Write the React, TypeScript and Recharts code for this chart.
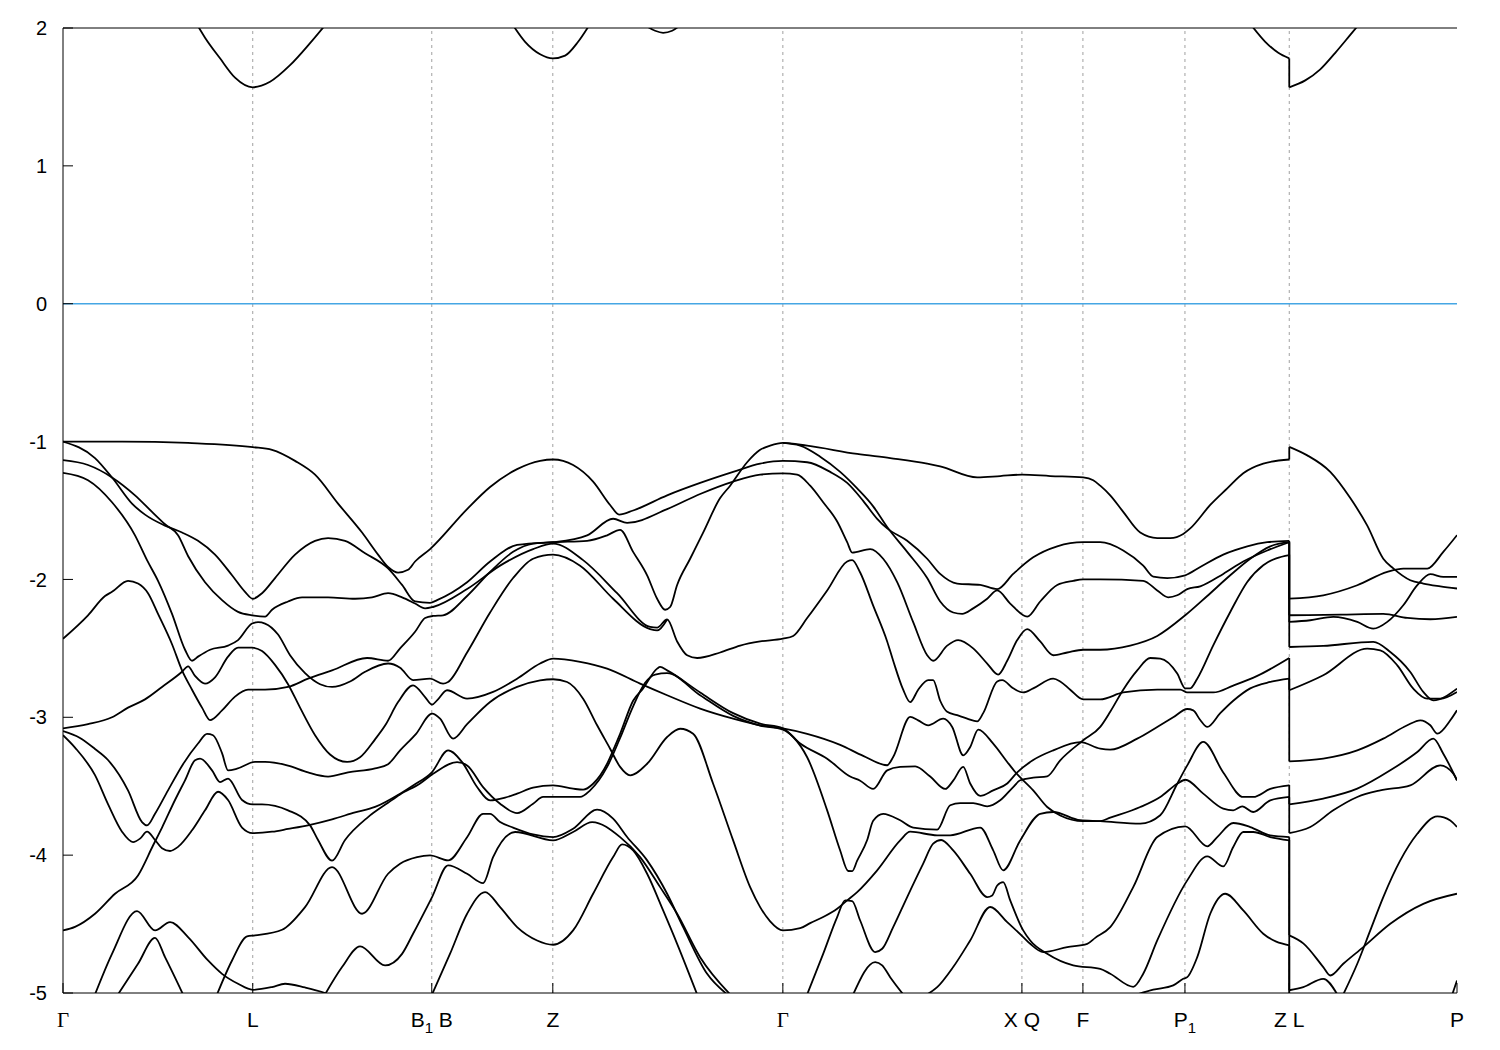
import React from 'react';
import { LineChart, Line, XAxis, YAxis, ReferenceLine } from 'recharts';

type Pt = [number, number];

// high-symmetry points along the k-path (path coordinate) and their labels
const symK = [63, 252.7, 431.7, 552.7, 782.7, 1021.7, 1082.7, 1184.7, 1289, 1456.7];
const symLabels = ['Γ', 'L', 'B_1 B', 'Z', 'Γ', 'X Q', 'F', 'P_1', 'Z L', 'P'];
const energyTicks = [-5, -4, -3, -2, -1, 0, 1, 2];

// conduction bands (above the Fermi level)
const conductionBands: Pt[][] = [
  [[195, 2.05], [205, 1.93], [220, 1.78], [235, 1.64], [252.7, 1.57], [270, 1.61], [290, 1.73], [310, 1.89], [325, 2.02]],
  [[512, 2.03], [525, 1.9], [540, 1.81], [552.7, 1.78], [565, 1.8], [578, 1.9], [590, 2.03]],
  [[645, 2.02], [655, 1.98], [663, 1.965], [672, 1.98], [680, 2.02]],
  [[1250, 2.03], [1265, 1.9], [1278, 1.82], [1289, 1.78]],
  [[1289, 1.57], [1305, 1.62], [1320, 1.7], [1335, 1.82], [1350, 1.95], [1358, 2.02]],
];

// upper valence bands, Γ ... Z
const upperValence: Pt[][] = [
  [[63, -1.0], [95, -1.12], [113, -1.27], [132, -1.45], [145, -1.53], [165, -1.61], [182, -1.66], [198, -1.72], [215, -1.82], [232, -1.97], [245, -2.09], [252.7, -2.14], [262, -2.1], [275, -1.99], [295, -1.82], [315, -1.72], [328, -1.7], [345, -1.72], [365, -1.81], [388, -1.92], [402, -2.04], [415, -2.16], [430, -2.17], [437, -2.15], [467, -2.02], [490, -1.87], [517, -1.75], [553, -1.73], [587, -1.72], [607, -1.68], [620, -1.64], [633, -1.8], [647, -1.97], [657, -2.14], [665, -2.22], [670, -2.2], [677, -2.04], [690, -1.85], [703, -1.66], [720, -1.41], [730, -1.32], [747, -1.15], [760, -1.06], [770, -1.03], [782.7, -1.01], [807, -1.03], [857, -1.09], [890, -1.12], [927, -1.16], [940, -1.18], [977, -1.26], [1000, -1.25], [1022, -1.24], [1050, -1.25], [1083, -1.26], [1093, -1.28], [1100, -1.32], [1110, -1.39], [1123, -1.51], [1140, -1.66], [1157, -1.7], [1170, -1.7], [1183, -1.67], [1190, -1.63], [1210, -1.46], [1227, -1.34], [1243, -1.23], [1263, -1.16], [1289, -1.13]],
  [[63, -1.0], [122, -1.0], [188, -1.01], [252.7, -1.04], [272, -1.06], [295, -1.14], [315, -1.24], [338, -1.45], [362, -1.66], [378, -1.82], [388, -1.91], [398, -1.95], [408, -1.93], [415, -1.87], [430, -1.78], [467, -1.49], [490, -1.33], [517, -1.2], [540, -1.14], [553, -1.13], [573, -1.17], [593, -1.29], [610, -1.46], [619, -1.53], [633, -1.5], [667, -1.39], [700, -1.3], [733, -1.22], [760, -1.16], [782.7, -1.14], [807, -1.15], [830, -1.22], [847, -1.3], [863, -1.43], [877, -1.56], [887, -1.63], [907, -1.72], [927, -1.85], [940, -1.96], [957, -2.03], [980, -2.04], [997, -2.07], [1013, -1.96], [1033, -1.84], [1057, -1.76], [1083, -1.73], [1100, -1.73], [1123, -1.79], [1143, -1.9], [1153, -1.98], [1167, -1.99], [1185, -1.97], [1200, -1.91], [1223, -1.82], [1247, -1.76], [1267, -1.73], [1289, -1.72]],
  [[63, -1.135], [88, -1.17], [112, -1.26], [135, -1.39], [152, -1.51], [165, -1.6], [178, -1.68], [188, -1.83], [205, -2.02], [222, -2.15], [238, -2.235], [252, -2.26], [265, -2.27], [272, -2.22], [288, -2.16], [302, -2.13], [328, -2.13], [355, -2.14], [372, -2.13], [388, -2.1], [402, -2.13], [415, -2.175], [425, -2.21], [433, -2.2], [467, -2.07], [500, -1.9], [533, -1.78], [553, -1.74], [583, -1.86], [617, -2.1], [650, -2.345], [657, -2.35], [667, -2.29], [677, -2.45], [687, -2.55], [697, -2.57], [720, -2.53], [740, -2.48], [760, -2.45], [782.7, -2.43], [793, -2.41], [807, -2.28], [827, -2.08], [847, -1.87], [852, -1.86], [860, -1.95], [873, -2.19], [887, -2.45], [893, -2.59], [903, -2.8], [910, -2.89], [918, -2.8], [928, -2.73], [933, -2.73], [940, -2.88], [947, -2.96], [957, -2.985], [967, -3.01], [977, -3.03], [983, -2.97], [997, -2.74], [1002, -2.73], [1013, -2.79], [1023, -2.82], [1033, -2.79], [1053, -2.72], [1060, -2.74], [1070, -2.8], [1083, -2.87], [1100, -2.87], [1123, -2.82], [1157, -2.8], [1180, -2.8], [1187, -2.82], [1213, -2.82], [1233, -2.77], [1257, -2.7], [1289, -2.57]],
  [[63, -1.227], [88, -1.28], [112, -1.44], [135, -1.68], [147, -1.86], [158, -2.01], [172, -2.25], [185, -2.51], [192, -2.59], [198, -2.56], [210, -2.51], [228, -2.48], [238, -2.44], [252, -2.32], [258, -2.31], [265, -2.32], [278, -2.4], [290, -2.55], [305, -2.68], [320, -2.76], [332, -2.78], [350, -2.74], [365, -2.67], [388, -2.61], [400, -2.64], [413, -2.73], [430, -2.72], [443, -2.756], [448, -2.744], [467, -2.53], [490, -2.24], [513, -1.99], [533, -1.85], [553, -1.82], [580, -1.9], [613, -2.14], [650, -2.36], [657, -2.37], [667, -2.29]],
  [[63, -2.43], [88, -2.26], [105, -2.12], [112, -2.09], [128, -2.01], [138, -2.03], [148, -2.1], [158, -2.25], [172, -2.47], [182, -2.66], [192, -2.8], [202, -2.93], [210, -3.02], [222, -2.95], [235, -2.85], [248, -2.8], [265, -2.8], [288, -2.78], [308, -2.72], [332, -2.66], [367, -2.57], [388, -2.59], [400, -2.5], [415, -2.38], [425, -2.28], [433, -2.265], [443, -2.26], [467, -2.12], [490, -1.945], [513, -1.8], [533, -1.74], [553, -1.73], [587, -1.68], [613, -1.56], [627, -1.59], [667, -1.49], [700, -1.38], [733, -1.29], [760, -1.24], [782.7, -1.23], [797, -1.24], [810, -1.32], [823, -1.44], [837, -1.58], [847, -1.73], [852, -1.805], [870, -1.78], [883, -1.85], [897, -2.02], [913, -2.31], [927, -2.55], [933, -2.59], [947, -2.48], [958, -2.44], [973, -2.5], [987, -2.61], [998, -2.69], [1007, -2.59], [1017, -2.44], [1027, -2.36], [1040, -2.45], [1053, -2.55], [1067, -2.53], [1083, -2.51], [1100, -2.51], [1130, -2.48], [1157, -2.41], [1185, -2.26], [1207, -2.12], [1230, -1.97], [1250, -1.85], [1270, -1.76], [1289, -1.73]],
  [[782.7, -1.01], [800, -1.03], [820, -1.11], [840, -1.22], [857, -1.34], [873, -1.47], [887, -1.62], [907, -1.8], [927, -1.99], [940, -2.16], [953, -2.24], [962, -2.25], [973, -2.21], [987, -2.14], [997, -2.08], [1010, -2.175], [1027, -2.27], [1040, -2.16], [1057, -2.04], [1073, -2.01], [1083, -2.0], [1100, -2.0], [1143, -2.01], [1157, -2.08], [1168, -2.13], [1177, -2.115], [1187, -2.07], [1200, -2.05], [1223, -1.96], [1243, -1.87], [1267, -1.79], [1289, -1.73]],
];

// lower valence bands, Γ ... Z
const lowerValence: Pt[][] = [
  [[63, -3.13], [75, -3.22], [95, -3.42], [108, -3.63], [122, -3.83], [133, -3.905], [140, -3.88], [147, -3.83], [155, -3.89], [162, -3.95], [170, -3.97], [178, -3.94], [192, -3.82], [205, -3.675], [218, -3.54], [228, -3.6], [242, -3.8], [252.7, -3.84], [272, -3.83], [288, -3.81], [310, -3.78], [332, -3.74], [355, -3.69], [375, -3.65], [400, -3.554], [413, -3.494], [432, -3.397], [448, -3.24], [462, -3.325], [477, -3.506], [490, -3.603], [505, -3.583], [517, -3.554], [533, -3.511], [553, -3.494], [573, -3.518], [583, -3.525], [593, -3.482], [607, -3.337], [613, -3.24], [620, -3.12], [633, -2.88], [643, -2.79], [657, -2.647], [660, -2.635], [667, -2.66], [700, -2.82], [733, -2.97], [760, -3.046], [782.7, -3.08], [800, -3.19], [827, -3.3], [850, -3.43], [860, -3.46], [873, -3.52], [887, -3.385], [900, -3.36], [915, -3.356], [930, -3.43], [945, -3.52], [953, -3.46], [963, -3.36], [970, -3.48], [980, -3.57], [993, -3.53], [1007, -3.48], [1017, -3.4], [1033, -3.31], [1053, -3.24], [1080, -3.18], [1100, -3.228], [1110, -3.235], [1137, -3.155], [1157, -3.07], [1173, -3.0], [1187, -2.94], [1193, -2.95], [1200, -3.02], [1207, -3.07], [1220, -2.97], [1233, -2.88], [1250, -2.79], [1270, -2.744], [1289, -2.72]],
  [[63, -4.546], [75, -4.52], [95, -4.425], [115, -4.28], [138, -4.147], [153, -3.93], [162, -3.8], [175, -3.6], [185, -3.457], [195, -3.312], [200, -3.3], [212, -3.385], [220, -3.47], [228, -3.445], [242, -3.6], [252.7, -3.632], [262, -3.632], [288, -3.675], [310, -3.784], [318, -3.89], [332, -4.04], [345, -3.89], [368, -3.724], [388, -3.62], [400, -3.56], [420, -3.48], [433, -3.41], [457, -3.325], [467, -3.349], [483, -3.506], [500, -3.627], [517, -3.695], [533, -3.627], [543, -3.578], [580, -3.578], [590, -3.53], [607, -3.36], [620, -3.15], [633, -2.92], [645, -2.75], [655, -2.69], [667, -2.68], [700, -2.84], [733, -2.99], [760, -3.06], [782.7, -3.09], [793, -3.143], [807, -3.29], [827, -3.675], [840, -3.966], [848, -4.115], [852, -4.116], [857, -4.04], [867, -3.89], [873, -3.75], [883, -3.7], [900, -3.747], [913, -3.8], [937, -3.815], [950, -3.638], [960, -3.622], [973, -3.622], [987, -3.646], [1000, -3.602], [1013, -3.506], [1020, -3.457], [1033, -3.438], [1047, -3.428], [1060, -3.312], [1083, -3.167], [1100, -3.07], [1110, -2.96], [1123, -2.8], [1137, -2.66], [1150, -2.57], [1160, -2.574], [1177, -2.683], [1185, -2.79], [1190, -2.79], [1197, -2.72], [1213, -2.478], [1230, -2.236], [1247, -2.018], [1263, -1.897], [1289, -1.824]],
  [[63, -3.08], [88, -3.05], [112, -3.0], [128, -2.93], [145, -2.87], [162, -2.78], [182, -2.67], [188, -2.63], [195, -2.7], [205, -2.756], [215, -2.71], [228, -2.56], [238, -2.495], [252, -2.495], [262, -2.52], [275, -2.62], [288, -2.76], [300, -2.93], [315, -3.13], [330, -3.27], [347, -3.324], [360, -3.29], [375, -3.16], [385, -3.06], [398, -2.89], [413, -2.768], [425, -2.853], [432, -2.908], [437, -2.877], [447, -2.804], [467, -2.864], [493, -2.816], [517, -2.72], [540, -2.61], [553, -2.574], [580, -2.598], [607, -2.647], [640, -2.756], [667, -2.84], [700, -2.937], [733, -3.01], [760, -3.058], [782.7, -3.08], [807, -3.12], [840, -3.2], [863, -3.28], [887, -3.348], [893, -3.288], [910, -2.997], [918, -3.022], [928, -3.058], [943, -3.01], [952, -3.07], [963, -3.276], [970, -3.215], [978, -3.089], [993, -3.191], [1007, -3.324], [1015, -3.397], [1033, -3.53], [1047, -3.651], [1060, -3.712], [1083, -3.753], [1100, -3.753], [1110, -3.728], [1140, -3.651], [1160, -3.578], [1177, -3.482], [1185, -3.453], [1203, -3.554], [1223, -3.663], [1233, -3.675], [1242, -3.646], [1253, -3.687], [1270, -3.603], [1289, -3.578]],
  [[63, -3.1], [80, -3.15], [95, -3.23], [108, -3.31], [128, -3.53], [142, -3.76], [147, -3.784], [155, -3.7], [168, -3.53], [183, -3.34], [198, -3.19], [207, -3.12], [213, -3.13], [222, -3.26], [228, -3.385], [237, -3.373], [255, -3.324], [265, -3.324], [288, -3.35], [308, -3.4], [328, -3.43], [348, -3.4], [375, -3.37], [388, -3.34], [400, -3.24], [416, -3.12], [432, -2.974], [440, -3.01], [453, -3.155], [467, -3.05], [490, -2.889], [517, -2.78], [540, -2.732], [553, -2.724], [567, -2.744], [583, -2.865], [597, -3.058], [610, -3.228], [620, -3.36], [630, -3.421], [647, -3.337], [667, -3.143], [680, -3.083], [693, -3.119], [713, -3.482], [733, -3.893], [750, -4.232], [760, -4.377], [770, -4.48], [782.7, -4.546], [800, -4.53], [810, -4.493], [823, -4.449], [837, -4.389], [847, -4.328], [857, -4.268], [877, -4.11], [900, -3.893], [910, -3.83], [937, -3.856], [950, -3.856], [980, -3.8], [993, -3.965], [1003, -4.11], [1020, -3.893], [1040, -3.7], [1053, -3.687], [1080, -3.747], [1100, -3.753], [1140, -3.772], [1160, -3.711], [1177, -3.482], [1187, -3.349], [1203, -3.179], [1223, -3.4], [1243, -3.578], [1253, -3.578], [1270, -3.52], [1289, -3.494]],
  [[807, -5.01], [823, -4.716], [837, -4.449], [845, -4.328], [852, -4.333], [860, -4.474], [875, -4.703], [882, -4.679], [893, -4.522], [907, -4.304], [923, -4.062], [933, -3.917], [941, -3.89], [953, -3.966], [970, -4.135], [987, -4.304], [992, -4.292], [997, -4.22], [1003, -4.195], [1010, -4.328], [1023, -4.546], [1030, -4.619], [1047, -4.716], [1073, -4.8], [1100, -4.825], [1110, -4.86], [1133, -4.955], [1143, -4.86], [1157, -4.619], [1187, -4.183], [1207, -4.009], [1223, -4.082], [1233, -3.941], [1243, -3.832], [1253, -3.832], [1270, -3.869], [1289, -3.893]],
  [[927, -5.01], [937, -4.958], [953, -4.812], [970, -4.619], [990, -4.376], [1007, -4.486], [1023, -4.594], [1030, -4.643], [1043, -4.703], [1067, -4.667], [1087, -4.643], [1095, -4.6], [1110, -4.522], [1133, -4.232], [1157, -3.869], [1185, -3.791], [1207, -3.936], [1217, -3.869], [1233, -3.767], [1250, -3.796], [1270, -3.857], [1289, -3.869]],
  [[853, -5.01], [875, -4.776], [882, -4.8], [890, -4.885], [903, -5.01]],
  [[1137, -5.01], [1153, -4.976], [1173, -4.945], [1183, -4.897], [1187, -4.885], [1197, -4.74], [1210, -4.425], [1225, -4.28], [1243, -4.401], [1263, -4.57], [1289, -4.655]],
  [[217, -5.01], [232, -4.764], [247, -4.59], [255, -4.582], [282, -4.541], [305, -4.377], [332, -4.087], [362, -4.425], [388, -4.135], [400, -4.062], [417, -4.014], [430, -4.002], [448, -4.038], [467, -3.87], [483, -3.7], [490, -3.7], [500, -3.76], [513, -3.8], [533, -3.85], [553, -3.869], [573, -3.808], [597, -3.67], [613, -3.735], [627, -3.868], [647, -4.038], [667, -4.28], [683, -4.522], [707, -4.861], [727, -5.01]],
  [[325, -5.01], [342, -4.812], [360, -4.662], [385, -4.8], [402, -4.716], [413, -4.57], [432, -4.304], [448, -4.074], [467, -4.135], [483, -4.203], [493, -4.014], [515, -3.832], [553, -3.893], [573, -3.832], [592, -3.76], [620, -3.869], [640, -4.014], [660, -4.232], [677, -4.425], [700, -4.74], [730, -5.01]],
  [[432, -5.01], [450, -4.715], [467, -4.425], [485, -4.268], [500, -4.377], [517, -4.522], [537, -4.619], [553, -4.65], [573, -4.546], [593, -4.28], [613, -4.014], [622, -3.922], [633, -3.966], [647, -4.135], [663, -4.401], [677, -4.643], [697, -5.01]],
  [[95, -5.01], [112, -4.716], [137, -4.406], [155, -4.546], [170, -4.486], [188, -4.594], [208, -4.764], [222, -4.861], [238, -4.933], [252.7, -4.977], [272, -4.957], [285, -4.933], [305, -4.96], [325, -5.0], [335, -5.03]],
  [[118, -5.01], [138, -4.788], [155, -4.6], [165, -4.74], [183, -5.01]],
];

// bands on the last segment L ... P
const lpBands: Pt[][] = [
  [[1289, -1.038], [1307, -1.1], [1330, -1.22], [1350, -1.41], [1367, -1.61], [1383, -1.85], [1393, -1.92], [1410, -2.006], [1423, -2.03], [1440, -2.05], [1456.7, -2.066]],
  [[1289, -2.139], [1323, -2.115], [1357, -2.042], [1387, -1.945], [1403, -1.921], [1427, -1.921], [1443, -1.8], [1456.7, -1.679]],
  [[1289, -2.26], [1340, -2.255], [1383, -2.25], [1407, -2.279], [1430, -2.289], [1456.7, -2.272]],
  [[1289, -2.308], [1310, -2.296], [1333, -2.272], [1357, -2.308], [1373, -2.357], [1387, -2.308], [1403, -2.187], [1417, -2.042], [1430, -1.962], [1443, -1.982], [1456.7, -1.982]],
  [[1289, -2.49], [1323, -2.482], [1373, -2.453], [1390, -2.526], [1410, -2.671], [1423, -2.816], [1433, -2.877], [1456.7, -2.792]],
  [[1289, -2.804], [1323, -2.695], [1367, -2.502], [1380, -2.514], [1397, -2.623], [1413, -2.792], [1427, -2.865], [1440, -2.865], [1456.7, -2.816]],
  [[1289, -3.32], [1323, -3.3], [1357, -3.24], [1383, -3.155], [1407, -3.058], [1420, -3.022], [1430, -3.058], [1437, -3.119], [1450, -3.022], [1456.7, -2.949]],
  [[1289, -3.632], [1323, -3.59], [1357, -3.518], [1390, -3.385], [1417, -3.252], [1433, -3.155], [1443, -3.264], [1456.7, -3.457]],
  [[1289, -3.84], [1310, -3.796], [1333, -3.675], [1357, -3.578], [1380, -3.53], [1410, -3.494], [1440, -3.349], [1453, -3.409], [1456.7, -3.457]],
  [[1289, -4.582], [1303, -4.64], [1323, -4.812], [1330, -4.873], [1343, -4.788], [1363, -4.667], [1390, -4.498], [1423, -4.353], [1456.7, -4.28]],
  [[1289, -4.98], [1303, -4.957], [1323, -4.897], [1337, -5.01]],
  [[1343, -5.01], [1357, -4.788], [1370, -4.546], [1383, -4.304], [1400, -4.038], [1417, -3.845], [1437, -3.719], [1450, -3.748], [1456.7, -3.796]],
  [[1452, -5.01], [1456.7, -4.909]],
];

// band energies on both sides of the Z|L break: [at Z, at L]
const zlJumps: Pt[] = [
  [1.78, 1.57], [-1.13, -1.04], [-1.72, -2.14], [-1.73, -2.26], [-1.73, -2.31], [-1.82, -2.49],
  [-2.57, -2.8], [-2.72, -3.32], [-3.49, -3.63], [-3.58, -3.84], [-3.87, -4.58], [-3.89, -4.98], [-4.66, -5.3],
];

const FONT = 'Liberation Sans, Arial, Helvetica, sans-serif';
const K_DOMAIN: [number, number] = [63, 1456.7];
const E_DOMAIN: [number, number] = [-5, 2];
const TICK_LEN = 10;

// bottom labels + inward tick marks
const SymTick = (props: any) => {
  const { x, y, payload } = props;
  const idx = symK.indexOf(payload.value);
  const label = idx >= 0 ? symLabels[idx] : '';
  const isGamma = label === 'Γ';
  const parts = label.split('_');
  return (
    <g>
      <line x1={x} x2={x} y1={y} y2={y - TICK_LEN} stroke="#000" strokeWidth={1} />
      <text
        x={x}
        y={y + 34}
        textAnchor="middle"
        fontSize={21}
        fill="#000"
        fontFamily={isGamma ? 'Liberation Serif, DejaVu Serif, serif' : FONT}
      >
        <tspan>{parts[0]}</tspan>
        {parts.length > 1 && (
          <>
            <tspan dy={6} fontSize={15}>{parts[1].charAt(0)}</tspan>
            <tspan dy={-6}>{parts[1].slice(1)}</tspan>
          </>
        )}
      </text>
    </g>
  );
};

// left labels + inward tick marks
const LeftTick = (props: any) => {
  const { x, y, payload } = props;
  return (
    <g>
      <line x1={x} x2={x + TICK_LEN} y1={y} y2={y} stroke="#000" strokeWidth={1} />
      <text x={x - 16} y={y} dy="0.36em" textAnchor="end" fontSize={20} fill="#000" fontFamily={FONT}>
        {String(payload.value)}
      </text>
    </g>
  );
};

// right mirrored tick marks
const RightTick = (props: any) => {
  const { x, y } = props;
  return <line x1={x - TICK_LEN} x2={x} y1={y} y2={y} stroke="#000" strokeWidth={1} />;
};

const toData = (pts: Pt[]) => pts.map(([k, e]) => ({ k, e }));

export default function App() {
  const bands = [...conductionBands, ...upperValence, ...lowerValence, ...lpBands];
  const breakK = symK[8];
  return (
    <div style={{ position: 'absolute', left: 0, top: 0, width: 1500, height: 1050, background: '#fff' }}>
      <LineChart width={1500} height={1050} margin={{ top: 28, right: 43, bottom: 17, left: 8 }}>
        <XAxis
          xAxisId="x"
          dataKey="k"
          type="number"
          domain={K_DOMAIN}
          ticks={symK}
          interval={0}
          allowDataOverflow
          height={40}
          tickLine={false}
          tickSize={0}
          tickMargin={0}
          tick={<SymTick />}
          axisLine={{ stroke: '#000' }}
        />
        <XAxis xAxisId="xt" orientation="top" mirror type="number" domain={K_DOMAIN} allowDataOverflow tick={false} tickLine={false} axisLine={{ stroke: '#000' }} />
        <YAxis
          yAxisId="y"
          type="number"
          domain={E_DOMAIN}
          ticks={energyTicks}
          interval={0}
          allowDataOverflow
          width={55}
          tickLine={false}
          tickSize={0}
          tickMargin={0}
          tick={<LeftTick />}
          axisLine={{ stroke: '#000' }}
        />
        <YAxis
          yAxisId="yr"
          orientation="right"
          type="number"
          domain={E_DOMAIN}
          ticks={energyTicks}
          interval={0}
          allowDataOverflow
          width={0}
          tickLine={false}
          tickSize={0}
          tickMargin={0}
          tick={<RightTick />}
          axisLine={{ stroke: '#000' }}
        />

        {symK.slice(1, -1).map((k) => (
          <ReferenceLine key={`g${k}`} xAxisId="x" yAxisId="y" x={k} stroke="#a0a0a0" strokeDasharray="3 4" strokeWidth={1} />
        ))}
        <ReferenceLine xAxisId="x" yAxisId="y" y={0} stroke="#45a6e4" strokeWidth={1.6} />

        {bands.map((pts, i) => (
          <Line
            key={`b${i}`}
            xAxisId="x"
            yAxisId="y"
            data={toData(pts)}
            dataKey="e"
            type="monotone"
            stroke="#000"
            strokeWidth={1.8}
            dot={false}
            activeDot={false}
            isAnimationActive={false}
          />
        ))}
        {zlJumps.map(([ez, el], i) => (
          <Line
            key={`j${i}`}
            xAxisId="x"
            yAxisId="y"
            data={[{ k: breakK, e: ez }, { k: breakK, e: el }]}
            dataKey="e"
            type="linear"
            stroke="#000"
            strokeWidth={1.8}
            dot={false}
            activeDot={false}
            isAnimationActive={false}
          />
        ))}
      </LineChart>
    </div>
  );
}
